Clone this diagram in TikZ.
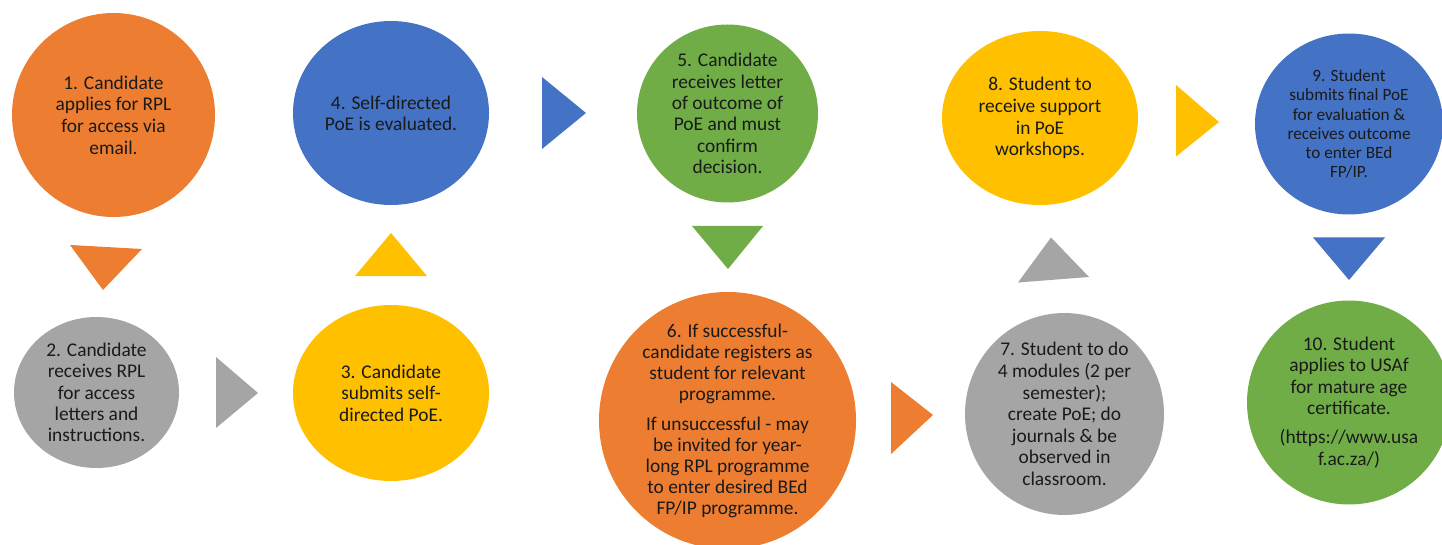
\documentclass[tikz,border=0pt]{standalone}
\usepackage{fontspec}
\setmainfont{Carlito}
\usetikzlibrary{shapes.geometric}
\definecolor{cOrange}{HTML}{ED7D31}
\definecolor{cBlue}{HTML}{4472C4}
\definecolor{cGreen}{HTML}{70AD47}
\definecolor{cYellow}{HTML}{FFC000}
\definecolor{cGray}{HTML}{A5A5A5}
\definecolor{cText}{HTML}{1A1A1A}
\tikzset{
  stepdisc/.style={ellipse, inner sep=0pt, outer sep=0pt, draw=none},
  steptext/.style={align=center, text=cText, inner sep=0pt, font=\fontsize{19.4}{#1}\selectfont},
}
\begin{document}
\begin{tikzpicture}[x=1pt,y=-1pt]
\useasboundingbox (0,0) rectangle (1442,545);
\clip (0,0) rectangle (1442,545);
% discs
\node[stepdisc, fill=cOrange, minimum width=203pt, minimum height=204pt] (c1) at (113.5,115) {};
\node[stepdisc, fill=cGray,   minimum width=165pt, minimum height=151pt] (c2) at (96.5,392.5) {};
\node[stepdisc, fill=cYellow, minimum width=196pt, minimum height=176pt] (c3) at (391,393) {};
\node[stepdisc, fill=cBlue,   minimum width=196pt, minimum height=184pt] (c4) at (391,113) {};
\node[stepdisc, fill=cGreen,  minimum width=181pt, minimum height=178pt] (c5) at (727.5,113.5) {};
\node[stepdisc, fill=cOrange, minimum width=257pt, minimum height=257pt] (c6) at (727.5,420.5) {};
\node[stepdisc, fill=cGray,   minimum width=199pt, minimum height=202pt] (c7) at (1064.5,414) {};
\node[stepdisc, fill=cYellow, minimum width=196pt, minimum height=174pt] (c8) at (1040,118) {};
\node[stepdisc, fill=cBlue,   minimum width=188pt, minimum height=181pt] (c9) at (1349,124) {};
\node[stepdisc, fill=cGreen,  minimum width=204pt, minimum height=204pt] (c10) at (1349,402.5) {};
% texts
\node[steptext=21.7pt] (t1) at (c1) {1. Candidate\\applies for RPL\\for access via\\email.};
\node[steptext=21.2pt] (t2) at (c2) {2. Candidate\\receives RPL\\for access\\letters and\\instructions.};
\node[steptext=21.4pt] (t3) at (c3) {3. Candidate\\submits self-\\directed PoE.};
\node[steptext=21pt] (t4) at (c4) {4. Self-directed\\PoE is evaluated.};
\node[steptext=21.4pt] (t5) at (c5) {5. Candidate\\receives letter\\of outcome of\\PoE and must\\confirm\\decision.};
\node[steptext=21pt] (t6) at (c6) {6. If successful-\\candidate registers as\\student for relevant\\programme.\\[9pt]If unsuccessful - may\\be invited for year-\\long RPL programme\\to enter desired BEd\\FP/IP programme.};
\node[steptext=21.6pt] (t7) at (c7) {7. Student to do\\4 modules (2 per\\semester);\\create PoE; do\\journals \& be\\observed in\\classroom.};
\node[steptext=21.7pt] (t8) at (c8) {8. Student to\\receive support\\in PoE\\workshops.};
\node[steptext=19.2pt, font=\fontsize{17.2}{19.2}\selectfont] (t9) at (c9) {9. Student\\submits final PoE\\for evaluation \&\\receives outcome\\to enter BEd\\FP/IP.};
\node[steptext=21.5pt] (t10) at (c10) {10. Student\\applies to USAf\\for mature age\\certificate.\\[7.5pt](https://www.usa\\f.ac.za/)};
% triangles
\fill[cOrange] (70,245) -- (142,249) -- (103,290) -- cycle;
\fill[cGray]   (216,357) -- (216,428) -- (258,393) -- cycle;
\fill[cYellow] (355,276) -- (427,276) -- (391,233) -- cycle;
\fill[cBlue]   (542,77) -- (542,149) -- (586,113) -- cycle;
\fill[cGreen]  (692,226) -- (763,226) -- (728,269) -- cycle;
\fill[cOrange] (891,382) -- (891,454) -- (933,415) -- cycle;
\fill[cGray]   (1018,282.5) -- (1089,277) -- (1051,237.5) -- cycle;
\fill[cYellow] (1176,85) -- (1176,156.5) -- (1219,122) -- cycle;
\fill[cBlue]   (1313,237.5) -- (1385,237.5) -- (1349,280) -- cycle;
\end{tikzpicture}
\end{document}
